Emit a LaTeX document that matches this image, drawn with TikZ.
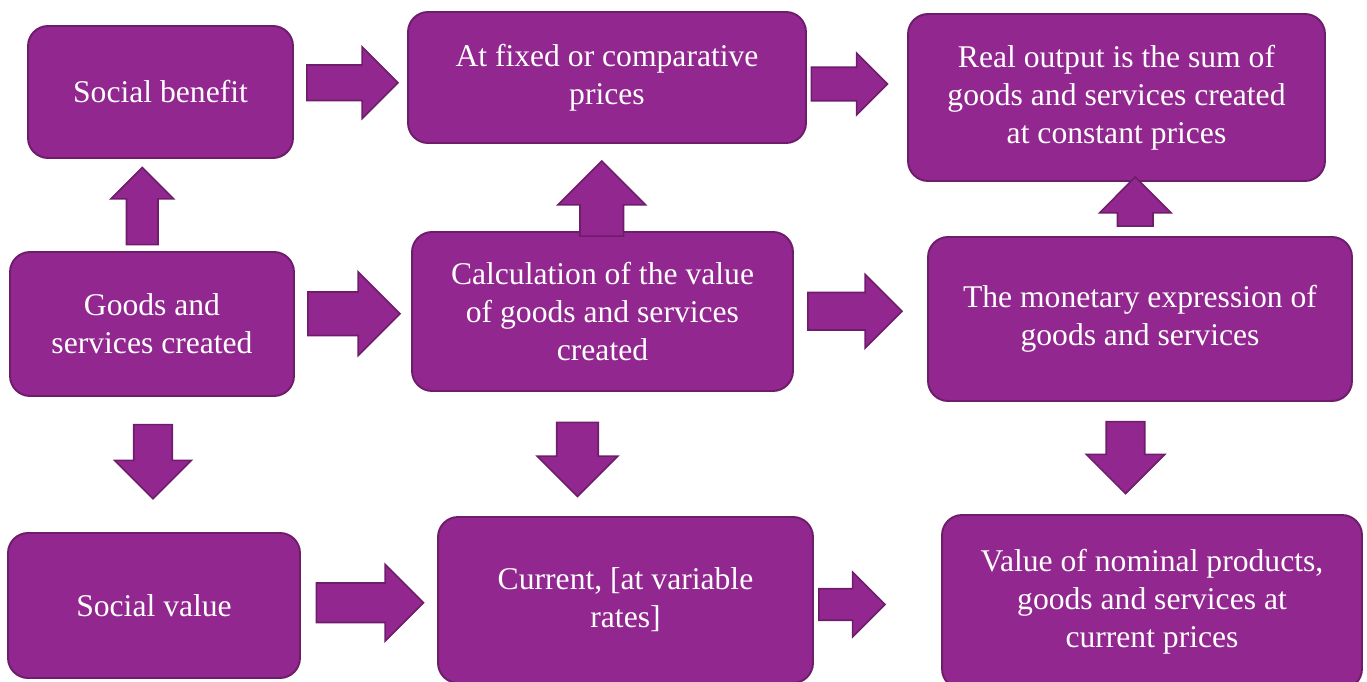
\documentclass[tikz,border=0pt]{standalone}
\usepackage{fontspec}
\setmainfont{Liberation Serif}
\usetikzlibrary{positioning, calc, shapes.arrows}

\definecolor{boxpurple}{HTML}{92278F}
\definecolor{edgepurple}{HTML}{6E1D6B}

\begin{document}
\begin{tikzpicture}[
    x=0.02cm, y=-0.02cm,
    % Box style - purple rounded rectangles
    box/.style={
        rectangle,
        rounded corners=0.4cm,
        draw=edgepurple,
        fill=boxpurple,
        line width=1.1pt,
        text=white,
        align=center,
        font=\fontsize{18}{21.5}\selectfont
    },
    % Block arrow style: length, head width, shaft width (in px)
    barrow/.style n args={3}{
        single arrow,
        draw=edgepurple,
        fill=boxpurple,
        line width=0.9pt,
        inner xsep=0pt,
        inner ysep={#3*0.01cm},
        minimum height={#1*0.02cm},
        minimum width={#2*0.02cm},
        single arrow head extend={(#2-#3)*0.01cm}
    }
]
\useasboundingbox (0,0) rectangle (1367,682);

% === Top row ===
\node[box, minimum width=5.30cm, minimum height=2.64cm] (sb) at (160.5, 92) {Social benefit};
\node[box, minimum width=7.96cm, minimum height=2.62cm] (af) at (607, 77.5) {At fixed or comparative\\prices};
\node[box, minimum width=8.34cm, minimum height=3.34cm] (ro) at (1116.5, 97.5) {Real output is the sum of\\goods and services created\\at constant prices};

% === Middle row ===
\node[box, minimum width=5.68cm, minimum height=2.88cm] (gs) at (152, 324) {Goods and\\services created};
\node[box, minimum width=7.62cm, minimum height=3.18cm] (calc) at (602.5, 311.5) {Calculation of the value\\of goods and services\\created};
\node[box, minimum width=8.48cm, minimum height=3.28cm] (mon) at (1140, 319) {The monetary expression of\\goods and services};

% === Bottom row ===
\node[box, minimum width=5.84cm, minimum height=2.90cm] (sv) at (154, 605.5) {Social value};
\node[box, minimum width=7.50cm, minimum height=3.32cm] (cur) at (625.5, 600) {Current, [at variable\\rates]};
\node[box, minimum width=8.40cm, minimum height=3.48cm] (val) at (1152, 602) {Value of nominal products,\\goods and services at\\current prices};

% === Horizontal arrows ===
\node[barrow={91}{70}{34}] (a1) at ($(sb.east)!.5!(af.west)+(-7,-2)$) {};
\node[barrow={76}{60}{32}] (a2) at ($(af.east)!.5!(ro.west)+(-16,-3.5)$) {};
\node[barrow={92}{82}{42}] (a3) at ($(gs.east)!.5!(calc.west)+(-10,-4)$) {};
\node[barrow={94}{72}{36}] (a4) at ($(calc.east)!.5!(mon.west)+(-15,-4)$) {};
\node[barrow={107}{75}{38}] (a5) at ($(sv.east)!.5!(cur.west)+(-9,0)$) {};
\node[barrow={66}{63}{30}] (a6) at ($(cur.east)!.5!(val.west)+(-33.5,3.5)$) {};

% === Upward arrows ===
\node[barrow={77}{61}{30}, rotate=90] (u1) at ($(gs.north)!.5!(sb.south)+(-14,9)$) {};
\node[barrow={75}{86}{42}, rotate=90] (u2) at ($(calc.north)!.5!(af.south)+(-3,22)$) {};
\node[barrow={49}{70}{34}, rotate=90] (u3) at ($(mon.north)!.5!(ro.south)+(7,1.5)$) {};

% === Downward arrows ===
\node[barrow={74}{75}{37}, rotate=-90] (d1) at ($(gs.south)!.5!(sv.north)+(0,-12.5)$) {};
\node[barrow={74}{79}{40}, rotate=-90] (d2) at ($(calc.south)!.5!(cur.north)+(-36.5,-5)$) {};
\node[barrow={72}{77}{37}, rotate=-90] (d3) at ($(mon.south)!.5!(val.north)+(-20.5,-10)$) {};

\end{tikzpicture}
\end{document}
